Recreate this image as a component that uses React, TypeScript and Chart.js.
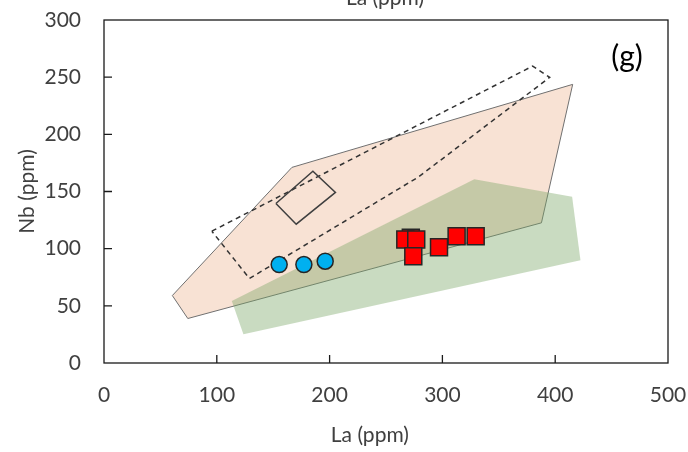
import React, { useEffect, useRef } from "react";
import { Chart, registerables } from "chart.js";

Chart.register(...registerables);

// Axis ranges / ticks
const X_RANGE = [0, 500];
const Y_RANGE = [0, 300];
const X_STEP = 100;
const Y_STEP = 50;
const X_TITLE = "La (ppm)";
const Y_TITLE = "Nb (ppm)";
const PANEL_LABEL = "(g)";

// Field polygons (La, Nb)
const pinkFieldX = [60.6, 74.3, 387.8, 415.5, 166.6, 60.6];
const pinkFieldY = [59.0, 38.9, 122.6, 243.7, 171.1, 59.0];

const greenFieldX = [113.3, 328.3, 415.0, 422.4, 123.6, 113.3];
const greenFieldY = [54.3, 160.8, 145.3, 89.9, 25.1, 54.3];

const dashedFieldX = [95.6, 380.0, 395.1, 278.6, 128.9, 95.6];
const dashedFieldY = [115.3, 259.7, 249.8, 162.6, 73.9, 115.3];

const boxFieldX = [152.4, 185.2, 205.2, 170.4, 152.4];
const boxFieldY = [139.5, 167.8, 149.2, 121.4, 139.5];

// Samples
const circleLa = [155.3, 177.2, 196.1];
const circleNb = [86.1, 86.1, 89.0];

const squareLa = [272.0, 267.1, 276.8, 274.2, 297.0, 312.6, 329.5];
const squareNb = [109.5, 108.1, 108.1, 93.4, 101.3, 110.9, 110.9];

const zip = (xs: number[], ys: number[]) => xs.map((x, i) => ({ x, y: ys[i] }));

const FONT = "Lato, 'Open Sans', sans-serif";
const TEXT = "#404040";

const zeroPad = (s: any) => {
  s.paddingLeft = 0;
  s.paddingRight = 0;
  s.paddingTop = 0;
  s.paddingBottom = 0;
};

const framePlugin = {
  id: "frame",
  afterDatasetsDraw(chart: any) {
    const { ctx, chartArea } = chart;
    const xs = chart.scales.x;
    const ys = chart.scales.y;
    ctx.save();
    ctx.strokeStyle = "#1a1a1a";
    ctx.lineWidth = 1.3;
    ctx.strokeRect(chartArea.left, chartArea.top, chartArea.right - chartArea.left, chartArea.bottom - chartArea.top);
    ctx.beginPath();
    for (let v = X_RANGE[0] + X_STEP; v < X_RANGE[1]; v += X_STEP) {
      const px = xs.getPixelForValue(v);
      ctx.moveTo(px, chartArea.bottom);
      ctx.lineTo(px, chartArea.bottom - 8);
    }
    for (let v = Y_RANGE[0] + Y_STEP; v < Y_RANGE[1]; v += Y_STEP) {
      const py = ys.getPixelForValue(v);
      ctx.moveTo(chartArea.left, py);
      ctx.lineTo(chartArea.left + 8, py);
    }
    ctx.stroke();
    ctx.restore();
  },
  afterDraw(chart: any) {
    const { ctx } = chart;
    ctx.save();
    ctx.fillStyle = TEXT;
    ctx.font = `21px ${FONT}`;
    ctx.textAlign = "center";
    ctx.textBaseline = "alphabetic";
    ctx.fillText(X_TITLE, 385, 5);
    ctx.fillStyle = "#000000";
    ctx.font = `30px ${FONT}`;
    ctx.textBaseline = "middle";
    ctx.fillText(PANEL_LABEL, 627, 57);
    ctx.restore();
  },
};

export default function App() {
  const ref = useRef<HTMLCanvasElement>(null);
  useEffect(() => {
    const canvas = ref.current!;
    const chart = new Chart(canvas, {
      type: "scatter",
      data: {
        datasets: [
          {
            label: "samples B",
            data: zip(squareLa, squareNb),
            pointStyle: "rect",
            pointRadius: 12,
            backgroundColor: "#ff0000",
            borderColor: "#262626",
            borderWidth: 1.5,
            order: 1,
          },
          {
            label: "samples A",
            data: zip(circleLa, circleNb),
            pointStyle: "circle",
            pointRadius: 8,
            backgroundColor: "#00b0f0",
            borderColor: "#262626",
            borderWidth: 1.5,
            order: 2,
          },
          {
            label: "box",
            data: zip(boxFieldX, boxFieldY),
            showLine: true,
            pointRadius: 0,
            borderColor: "#404040",
            borderWidth: 1.5,
            fill: false,
            order: 3,
          },
          {
            label: "dashed",
            data: zip(dashedFieldX, dashedFieldY),
            showLine: true,
            pointRadius: 0,
            borderColor: "#333333",
            borderWidth: 1.5,
            borderDash: [5, 4],
            fill: false,
            order: 4,
          },
          {
            label: "green",
            data: zip(greenFieldX, greenFieldY),
            showLine: true,
            pointRadius: 0,
            borderWidth: 0,
            borderColor: "rgba(0,0,0,0)",
            backgroundColor: "rgba(120,165,100,0.4)",
            fill: "shape",
            order: 5,
          },
          {
            label: "pink",
            data: zip(pinkFieldX, pinkFieldY),
            showLine: true,
            pointRadius: 0,
            borderWidth: 1,
            borderColor: "#707070",
            backgroundColor: "rgba(248,226,212,1)",
            fill: "shape",
            order: 6,
          },
        ] as any,
      },
      options: {
        animation: false,
        responsive: false,
        devicePixelRatio: 1,
        layout: { padding: { top: 20, right: 20, left: 0, bottom: 0 } },
        plugins: { legend: { display: false }, tooltip: { enabled: false } },
        scales: {
          x: {
            type: "linear",
            min: X_RANGE[0],
            max: X_RANGE[1],
            grid: { display: false, drawTicks: false },
            border: { display: false },
            ticks: { stepSize: X_STEP, padding: 20, color: TEXT, font: { family: FONT, size: 21 } },
            title: {
              display: true,
              text: X_TITLE + "      ",
              color: TEXT,
              font: { family: FONT, size: 21 },
              padding: { top: 0, bottom: 4 },
            },
            afterFit: (s: any) => {
              s.height = 89;
              zeroPad(s);
            },
          },
          y: {
            type: "linear",
            min: Y_RANGE[0],
            max: Y_RANGE[1],
            grid: { display: false, drawTicks: false },
            border: { display: false },
            ticks: { stepSize: Y_STEP, padding: 23, color: TEXT, font: { family: FONT, size: 21 } },
            title: {
              display: true,
              text: Y_TITLE,
              color: TEXT,
              font: { family: FONT, size: 21 },
              padding: { top: 15, bottom: 0 },
            },
            afterFit: (s: any) => {
              s.width = 104;
              zeroPad(s);
            },
          },
        },
      } as any,
      plugins: [framePlugin],
    });
    return () => chart.destroy();
  }, []);
  return (
    <div style={{ position: "absolute", left: 0, top: 0, width: 688, height: 452 }}>
      <canvas ref={ref} width={688} height={452} />
    </div>
  );
}
